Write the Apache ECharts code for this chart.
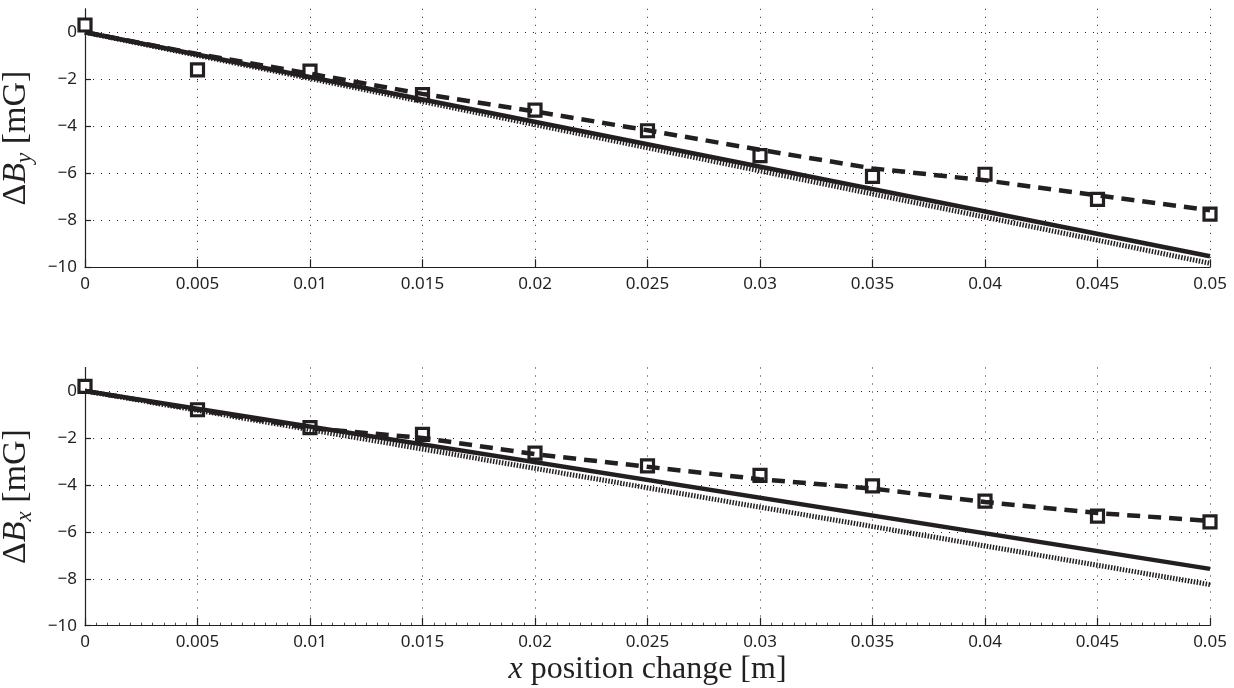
<!DOCTYPE html>
<html>
<head>
<meta charset="utf-8">
<script src="https://cdn.jsdelivr.net/npm/echarts@6/dist/echarts.min.js"></script>
<style>
  html, body { margin: 0; padding: 0; background: #fff; }
  #chart { width: 1234px; height: 688px; }
</style>
</head>
<body>
<div id="chart"></div>
<script>
// x positions of the measurements [m]
const xPos = [0, 0.005, 0.01, 0.015, 0.02, 0.025, 0.03, 0.035, 0.04, 0.045, 0.05]

// top panel: delta B_y [mG]
const byMeasured = [0.31, -1.6, -1.65, -2.65, -3.31, -4.19, -5.25, -6.13, -6.04, -7.11, -7.74]
const byDashed = [0, -0.92, -1.76, -2.62, -3.37, -4.17, -5.0, -5.79, -6.3, -6.94, -7.57]
// straight model lines, read at both ends
const lineEnds = [0, 0.05]
const bySolid = [0, -9.53]
const byDotted = [0, -9.83]

// bottom panel: delta B_x [mG]
const bxMeasured = [0.2, -0.8, -1.56, -1.85, -2.65, -3.19, -3.6, -4.04, -4.69, -5.33, -5.58]
const bxDashed = [0, -0.8, -1.58, -2.0, -2.69, -3.23, -3.76, -4.16, -4.73, -5.2, -5.54]
const bxSolid = [0, -7.58]
const bxDotted = [0, -8.25]

const yTicks = [-10, -8, -6, -4, -2, 0]

const ink = '#231f20'
const serif = 'Liberation Serif'
const sans = 'Noto Sans'

const pairs = (xs, ys) => xs.map((x, i) => [x, ys[i]])

const chart = echarts.init(document.getElementById('chart'))

const gridLine = { show: true, lineStyle: { color: ink, width: 1, type: [1, 7] } }

const makeX = (gridIndex, withName) => ({
  type: 'value',
  gridIndex,
  min: 0,
  max: 0.05,
  interval: 0.005,
  axisLine: { onZero: false, lineStyle: { color: ink, width: 1.2 } },
  axisTick: { inside: true, length: 8, lineStyle: { color: ink, width: 1.2 } },
  minorTick: { show: withName, splitNumber: 10, length: 3, lineStyle: { color: ink, width: 0.8 } },
  axisLabel: {
    color: ink, fontFamily: sans, fontSize: 17, margin: 8,
    formatter: v => String(Math.round(v * 1000) / 1000)
  },
  splitLine: gridLine,
  name: withName ? '{i|x}{r| position change [m]}' : '',
  nameLocation: 'middle',
  nameGap: 28,
  nameTextStyle: {
    rich: {
      i: { fontFamily: serif, fontSize: 32, fontStyle: 'italic', color: ink },
      r: { fontFamily: serif, fontSize: 32, color: ink }
    }
  }
})

const makeY = (gridIndex, sub) => ({
  type: 'value',
  gridIndex,
  min: -10,
  max: 1,
  interval: 2,
  axisLine: { show: true, onZero: false, lineStyle: { color: ink, width: 1.2 } },
  axisTick: { show: true, inside: true, length: 6, customValues: yTicks, lineStyle: { color: ink, width: 1.2 } },
  axisLabel: {
    color: ink, fontFamily: sans, fontSize: 17, margin: 8,
    customValues: yTicks,
    formatter: v => String(v).replace('-', '\u2212')
  },
  splitLine: gridLine,
  name: '{d|\u0394}{b|B}{s|' + sub + '}{d| [mG]}',
  nameLocation: 'middle',
  nameRotate: 90,
  nameGap: 36,
  nameTextStyle: {
    rich: {
      d: { fontFamily: serif, fontSize: 34, color: ink },
      b: { fontFamily: serif, fontSize: 34, fontStyle: 'italic', color: ink },
      s: { fontFamily: serif, fontSize: 23, fontStyle: 'italic', color: ink, verticalAlign: 'bottom', padding: [18, 0, 0, 0] }
    }
  }
})

const markers = (idx, ys) => ({
  type: 'scatter',
  xAxisIndex: idx,
  yAxisIndex: idx,
  data: pairs(xPos, ys),
  symbol: 'rect',
  symbolSize: 12,
  itemStyle: { color: '#fff', borderColor: ink, borderWidth: 3.2, opacity: 1 },
  z: 1
})

const line = (idx, xs, ys, type, width) => ({
  type: 'line',
  xAxisIndex: idx,
  yAxisIndex: idx,
  data: pairs(xs, ys),
  symbol: 'none',
  lineStyle: { color: ink, width, type, cap: 'butt', opacity: 1 },
  z: 3
})

chart.setOption({
  backgroundColor: '#fff',
  animation: false,
  grid: [
    { left: 85, right: 24, top: 8.8, height: 258.5, containLabel: false, outerBoundsMode: 'none' },
    { left: 85, right: 24, top: 367.5, height: 258.2, containLabel: false, outerBoundsMode: 'none' }
  ],
  xAxis: [makeX(0, false), makeX(1, true)],
  yAxis: [makeY(0, 'y'), makeY(1, 'x')],
  series: [
    markers(0, byMeasured),
    line(0, lineEnds, byDotted, [1.5, 1.5], 5),
    line(0, lineEnds, bySolid, 'solid', 4.5),
    line(0, xPos, byDashed, [13, 8], 4.5),
    markers(1, bxMeasured),
    line(1, lineEnds, bxDotted, [1.5, 1.5], 5),
    line(1, lineEnds, bxSolid, 'solid', 4.5),
    line(1, xPos, bxDashed, [13, 8], 4.5)
  ]
})
</script>
</body>
</html>
